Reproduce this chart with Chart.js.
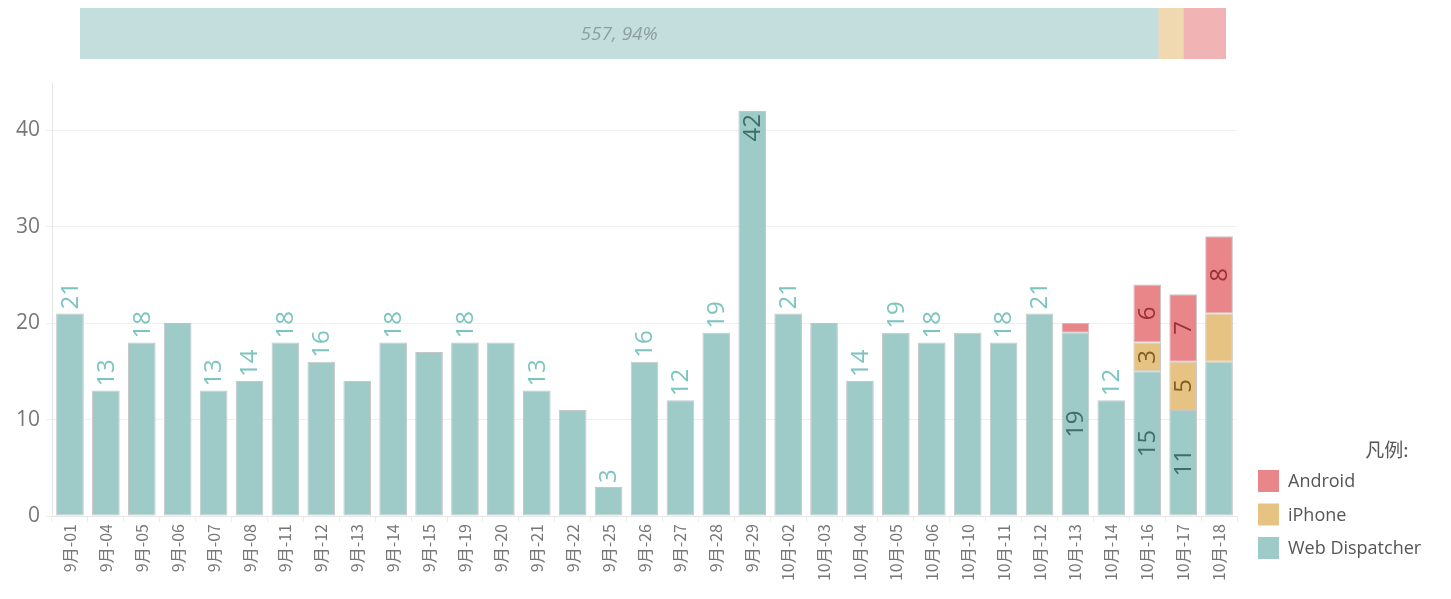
<!DOCTYPE html>
<html>
<head>
<meta charset="utf-8">
<script src="https://cdn.jsdelivr.net/npm/chart.js@4/dist/chart.umd.min.js"></script>
<style>
  body { margin: 0; background: #fff; }
  #wrap { position: relative; width: 1451px; height: 599px; }
  canvas { position: absolute; left: 0; }
</style>
</head>
<body>
<div id="wrap">
  <canvas id="mainChart" width="1451" height="599" style="top:0"></canvas>
  <canvas id="topChart" width="1451" height="70" style="top:0"></canvas>
</div>
<script>
// data
const dates = ['9月-01','9月-04','9月-05','9月-06','9月-07','9月-08','9月-11','9月-12','9月-13','9月-14',
  '9月-15','9月-19','9月-20','9月-21','9月-22','9月-25','9月-26','9月-27','9月-28','9月-29',
  '10月-02','10月-03','10月-04','10月-05','10月-06','10月-10','10月-11','10月-12','10月-13','10月-14',
  '10月-16','10月-17','10月-18'];
const webDispatcher = [21,13,18,20,13,14,18,16,14,18,17,18,18,13,11,3,16,12,19,42,21,20,14,19,18,19,18,21,19,12,15,11,16];
const iPhone = [null,null,null,null,null,null,null,null,null,null,null,null,null,null,null,null,null,null,null,null,
  null,null,null,null,null,null,null,null,null,null,3,5,5];
const android = [null,null,null,null,null,null,null,null,null,null,null,null,null,null,null,null,null,null,null,null,
  null,null,null,null,null,null,null,null,1,null,6,7,8];
// which marks carry a value label: a = above bar, t = inside top, m = middle of segment
const webLabels = ['a','a','a','','a','a','a','a','','a','','a','','a','','a','a','a','a','t',
  'a','','a','a','a','','a','a','m','a','m','m',''];
const iPhoneLabels = Array(30).fill('').concat(['m','m','']);
const androidLabels = Array(28).fill('').concat(['','','m','m','m']);
const yTicks = [0, 10, 20, 30, 40];

const sum = arr => arr.reduce((s, v) => s + (v || 0), 0);
const totals = [sum(webDispatcher), sum(iPhone), sum(android)];
const grandTotal = totals[0] + totals[1] + totals[2];

const seriesNames = ['Web Dispatcher', 'iPhone', 'Android'];
const barColors = ['#9ecbc7', '#e6c382', '#e8868a'];
const lightColors = ['#c3dedd', '#f0d9b0', '#f2b3b5'];
const labelColors = ['#3f6e6a', '#7c5e22', '#9b2f34'];
const aboveColor = '#7cc5bf';

// value labels, rotated like the original
const valueLabels = {
  id: 'valueLabels',
  afterDatasetsDraw(chart) {
    const ctx = chart.ctx;
    const modes = [webLabels, iPhoneLabels, androidLabels];
    ctx.save();
    ctx.font = '24px "Open Sans", sans-serif';
    chart.data.datasets.forEach((ds, di) => {
      const meta = chart.getDatasetMeta(di);
      meta.data.forEach((bar, i) => {
        const mode = modes[di][i];
        if (!mode || ds.data[i] == null) return;
        const txt = String(ds.data[i]);
        ctx.save();
        if (mode === 'a') {
          ctx.translate(bar.x, bar.y - 4);
          ctx.rotate(-Math.PI / 2);
          ctx.textAlign = 'left';
          ctx.fillStyle = aboveColor;
        } else if (mode === 't') {
          ctx.translate(bar.x, bar.y + 3);
          ctx.rotate(-Math.PI / 2);
          ctx.textAlign = 'right';
          ctx.fillStyle = labelColors[di];
        } else {
          ctx.translate(bar.x, (bar.y + bar.base) / 2);
          ctx.rotate(-Math.PI / 2);
          ctx.textAlign = 'center';
          ctx.fillStyle = labelColors[di];
        }
        ctx.textBaseline = 'middle';
        ctx.fillText(txt, 0, 1);
        ctx.restore();
      });
    });
    ctx.restore();
  }
};

// legend on the lower right
const sideLegend = {
  id: 'sideLegend',
  afterDraw(chart) {
    const ctx = chart.ctx;
    ctx.save();
    ctx.fillStyle = '#555';
    ctx.font = '19px "Noto Sans CJK SC", sans-serif';
    ctx.textAlign = 'center';
    ctx.textBaseline = 'middle';
    ctx.fillText('凡例:', 1387, 450);
    const order = [2, 1, 0];
    ctx.font = '18px "Open Sans", sans-serif';
    ctx.textAlign = 'left';
    order.forEach((k, j) => {
      const y = 481 + j * 33.5;
      ctx.fillStyle = barColors[k];
      ctx.fillRect(1258, y - 11, 21, 22);
      ctx.fillStyle = '#555';
      ctx.fillText(seriesNames[k], 1288, y + 1);
    });
    ctx.restore();
  }
};

const mainChart = new Chart(document.getElementById('mainChart'), {
  type: 'bar',
  data: {
    labels: dates,
    datasets: [
      { label: seriesNames[0], data: webDispatcher, backgroundColor: barColors[0] },
      { label: seriesNames[1], data: iPhone, backgroundColor: barColors[1] },
      { label: seriesNames[2], data: android, backgroundColor: barColors[2] }
    ].map(d => Object.assign(d, {
      borderColor: 'rgba(160,160,160,0.6)',
      borderWidth: 1,
      borderSkipped: false,
      barPercentage: 0.77,
      categoryPercentage: 1
    }))
  },
  options: {
    responsive: false,
    animation: false,
    events: [],
    layout: { padding: { top: 82, right: 214, left: 0, bottom: 0 } },
    plugins: { legend: { display: false }, tooltip: { enabled: false } },
    scales: {
      x: {
        stacked: true,
        afterFit: s => { s.height = 83; },
        grid: { drawOnChartArea: false, color: '#ececec', tickLength: 6 },
        border: { color: '#e6e6e6' },
        ticks: {
          minRotation: 90, maxRotation: 90, autoSkip: false, padding: 2,
          color: '#777', font: { size: 16, family: '"Noto Sans CJK SC", sans-serif' }
        }
      },
      y: {
        stacked: true,
        min: 0,
        max: 45,
        afterFit: s => { s.width = 52; },
        afterBuildTicks: s => { s.ticks = yTicks.map(v => ({ value: v })); },
        grid: { color: '#f0f0f0', tickLength: 6 },
        border: { color: '#e6e6e6' },
        ticks: { color: '#777', padding: 6, font: { size: 21, family: '"Open Sans", sans-serif' } }
      }
    }
  },
  plugins: [valueLabels, sideLegend]
});

// summary bar at the top
const summaryLabel = {
  id: 'summaryLabel',
  afterDatasetsDraw(chart) {
    const bar = chart.getDatasetMeta(0).data[0];
    const ctx = chart.ctx;
    ctx.save();
    ctx.font = 'italic 19px "Open Sans", sans-serif';
    ctx.fillStyle = '#8c9f9e';
    ctx.textAlign = 'center';
    ctx.textBaseline = 'middle';
    const pct = Math.round(totals[0] / grandTotal * 100);
    ctx.fillText(totals[0] + ', ' + pct + '%', (bar.x + bar.base) / 2, bar.y + 1);
    ctx.restore();
  }
};

const topChart = new Chart(document.getElementById('topChart'), {
  type: 'bar',
  data: {
    labels: ['total'],
    datasets: seriesNames.map((n, k) => ({
      label: n,
      data: [totals[k]],
      backgroundColor: lightColors[k],
      borderWidth: 0,
      barPercentage: 1,
      categoryPercentage: 1
    }))
  },
  options: {
    indexAxis: 'y',
    responsive: false,
    animation: false,
    events: [],
    layout: { padding: { top: 8, bottom: 11, left: 80, right: 225 } },
    plugins: { legend: { display: false }, tooltip: { enabled: false } },
    scales: {
      x: { stacked: true, min: 0, max: grandTotal, display: false },
      y: { stacked: true, display: false }
    }
  },
  plugins: [summaryLabel]
});
</script>
</body>
</html>
